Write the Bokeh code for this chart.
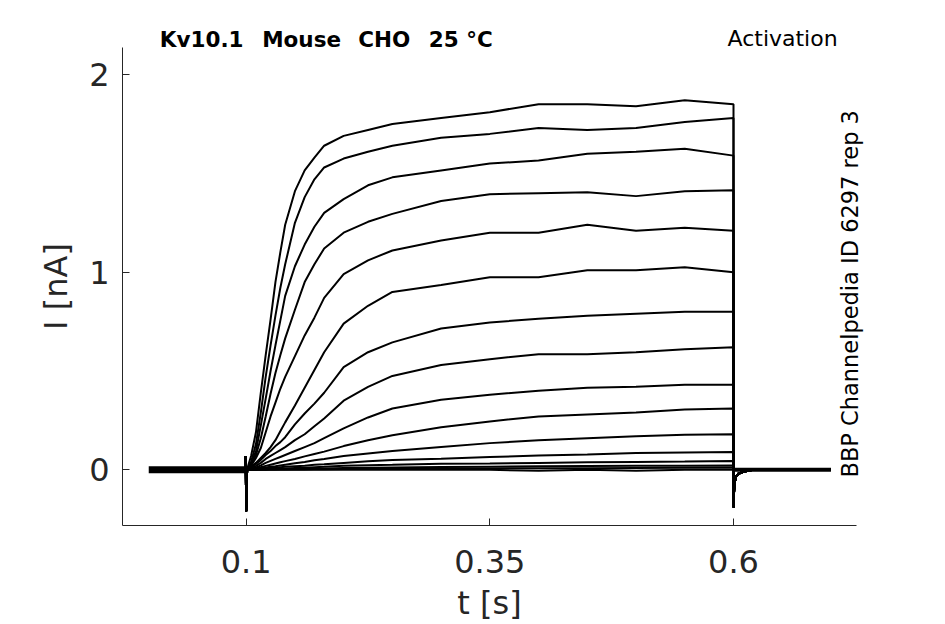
import math
from bokeh.plotting import figure
from bokeh.models import Range1d, FixedTicker, Label, LinearAxis
from bokeh.embed import file_html
from bokeh.resources import INLINE

# ---------------- data ----------------
# time grid of the depolarising step (s)
T = [0.102, 0.105, 0.11, 0.115, 0.12, 0.125, 0.13, 0.135, 0.14, 0.15, 0.16, 0.17,
     0.18, 0.2, 0.225, 0.25, 0.3, 0.35, 0.4, 0.45, 0.5, 0.55, 0.6]

# current of each sweep at the grid times (nA)
I01 = [0.02, 0.07, 0.19, 0.39, 0.58, 0.76, 0.95, 1.10, 1.24, 1.41, 1.515, 1.58, 1.64, 1.69, 1.72, 1.75, 1.78, 1.81, 1.85, 1.85, 1.84, 1.87, 1.85]
I02 = [0.01, 0.04, 0.13, 0.29, 0.47, 0.63, 0.78, 0.92, 1.04, 1.25, 1.38, 1.47, 1.53, 1.575, 1.61, 1.64, 1.68, 1.70, 1.73, 1.72, 1.73, 1.76, 1.78]
I03 = [0.01, 0.03, 0.095, 0.225, 0.36, 0.50, 0.63, 0.755, 0.88, 1.03, 1.14, 1.23, 1.30, 1.37, 1.44, 1.48, 1.515, 1.55, 1.565, 1.60, 1.61, 1.625, 1.59]
I04 = [0.01, 0.025, 0.075, 0.16, 0.27, 0.385, 0.49, 0.58, 0.665, 0.81, 0.95, 1.04, 1.12, 1.20, 1.255, 1.295, 1.36, 1.395, 1.40, 1.405, 1.385, 1.41, 1.415]
I05 = [0.005, 0.02, 0.06, 0.11, 0.19, 0.27, 0.34, 0.41, 0.47, 0.575, 0.68, 0.77, 0.87, 0.99, 1.06, 1.11, 1.16, 1.20, 1.20, 1.24, 1.21, 1.225, 1.21]
I06 = [0.005, 0.015, 0.035, 0.06, 0.085, 0.115, 0.15, 0.195, 0.24, 0.325, 0.415, 0.505, 0.595, 0.74, 0.83, 0.90, 0.935, 0.975, 0.975, 1.01, 1.01, 1.025, 1.00]
I07 = [0.005, 0.012, 0.03, 0.05, 0.075, 0.095, 0.12, 0.14, 0.165, 0.23, 0.285, 0.335, 0.39, 0.52, 0.595, 0.645, 0.715, 0.745, 0.765, 0.78, 0.79, 0.80, 0.80]
I08 = [0.003, 0.008, 0.02, 0.035, 0.055, 0.07, 0.085, 0.10, 0.115, 0.15, 0.18, 0.22, 0.26, 0.35, 0.42, 0.475, 0.53, 0.56, 0.585, 0.585, 0.595, 0.61, 0.62]
I09 = [0.002, 0.005, 0.012, 0.022, 0.035, 0.045, 0.055, 0.065, 0.075, 0.095, 0.115, 0.135, 0.16, 0.21, 0.265, 0.31, 0.355, 0.38, 0.40, 0.415, 0.42, 0.43, 0.43]
I10 = [0.001, 0.003, 0.008, 0.013, 0.02, 0.026, 0.032, 0.038, 0.044, 0.055, 0.068, 0.08, 0.092, 0.12, 0.15, 0.175, 0.215, 0.245, 0.27, 0.28, 0.29, 0.305, 0.31]
I11 = [0.0, 0.002, 0.005, 0.008, 0.012, 0.015, 0.018, 0.022, 0.026, 0.033, 0.04, 0.048, 0.055, 0.07, 0.083, 0.095, 0.115, 0.135, 0.15, 0.16, 0.17, 0.178, 0.18]
I12 = [0.0, 0.001, 0.003, 0.005, 0.007, 0.009, 0.011, 0.013, 0.015, 0.018, 0.021, 0.025, 0.028, 0.035, 0.043, 0.05, 0.056, 0.065, 0.072, 0.078, 0.085, 0.088, 0.09]
I13 = [0.0, 0.0, 0.001, 0.002, 0.003, 0.004, 0.005, 0.006, 0.007, 0.009, 0.011, 0.013, 0.015, 0.02, 0.023, 0.025, 0.03, 0.032, 0.035, 0.038, 0.04, 0.042, 0.045]
I14 = [0.0, 0.0, 0.0, 0.001, 0.001, 0.002, 0.002, 0.003, 0.003, 0.004, 0.005, 0.006, 0.007, 0.009, 0.011, 0.012, 0.014, 0.016, 0.018, 0.019, 0.02, 0.021, 0.022]
I15 = [0.0, 0.0, 0.0, 0.0, 0.0, 0.001, 0.001, 0.001, 0.001, 0.002, 0.002, 0.003, 0.003, 0.004, 0.005, 0.005, 0.006, 0.007, 0.008, 0.008, 0.009, 0.01, 0.01]
I16 = [0.0, 0.0, 0.0, 0.0, 0.0, 0.0, 0.0, 0.0, 0.0, 0.0, 0.0, 0.0, 0.0, 0.0, 0.0, 0.0, 0.0, 0.0, -0.005, 0.0, -0.005, 0.0, 0.0]
SWEEPS = [I01, I02, I03, I04, I05, I06, I07, I08, I09, I10, I11, I12, I13, I14, I15, I16]

# holding level before / after the step
HOLD_PRE_T = [0.0, 0.1]
HOLD_PRE_I = [0.0, 0.0]
HOLD_POST_T = [0.6, 0.7]
HOLD_POST_I = [0.0, 0.0]

# capacitive transient at step onset and offset
ON_T = [0.0995, 0.1, 0.1005, 0.101]
ON_I = [0.07, -0.21, -0.06, 0.0]
OFF_T = [0.6, 0.6005, 0.601, 0.6025, 0.605, 0.61, 0.62, 0.7]
OFF_I = [-0.19, -0.12, -0.07, -0.035, -0.02, -0.01, 0.0, 0.0]

# axis limits and ticks
X_LIM = (-0.0269, 0.7262)
Y_LIM = (-0.284, 2.137)
X_TICKS = [0.1, 0.35, 0.6]
X_TICK_LABELS = ["0.1", "0.35", "0.6"]
Y_TICKS = [0, 1, 2]
Y_TICK_LABELS = ["0", "1", "2"]

TITLE_WORDS = ["Kv10.1", "Mouse", "CHO", "25 °C"]   # "Kv10.1  Mouse  CHO  25 °C"
PROTOCOL = "Activation"
SOURCE = "BBP Channelpedia ID 6297 rep 3"

# ---------------- figure ----------------
FONT = "DejaVu Sans"
AX = "#262626"
W, H = 945, 624
# pixel calibration of the axes: t=0.1 at x=245.7, 974.6 px per s; I=0 at y=469.3, 197.6 px per nA
def tx(px):
    return 0.1 + (px - 245.7) / 974.6

def iy(py):
    return (469.3 - py) / 197.6

p = figure(width=W, height=H, x_range=Range1d(tx(0), tx(W)), y_range=Range1d(iy(H), iy(0)),
           min_border=0, x_axis_location=None, y_axis_location=None,
           output_backend="svg", toolbar_location=None)
p.outline_line_color = None
p.xgrid.visible = False
p.ygrid.visible = False
p.background_fill_color = "white"
p.border_fill_color = "white"

p.line(HOLD_PRE_T, HOLD_PRE_I, line_color="black", line_width=7)
p.line(HOLD_POST_T, HOLD_POST_I, line_color="black", line_width=4)
for sw in SWEEPS:
    ts = ON_T + T + OFF_T
    vs = ON_I + sw + OFF_I
    p.line(ts, vs, line_color="black", line_width=2)

xax = LinearAxis(fixed_location=Y_LIM[0], bounds=X_LIM)
yax = LinearAxis(fixed_location=X_LIM[0], bounds=Y_LIM)
p.add_layout(xax, "below")
p.add_layout(yax, "left")

for ax, ticks, labels in ((xax, X_TICKS, X_TICK_LABELS), (yax, Y_TICKS, Y_TICK_LABELS)):
    ax.ticker = FixedTicker(ticks=ticks)
    ax.major_label_overrides = {t: l for t, l in zip(ticks, labels)}
    ax.minor_tick_line_color = None
    ax.major_tick_in = 7
    ax.major_tick_out = 0
    ax.axis_line_color = AX
    ax.major_tick_line_color = AX
    ax.axis_line_width = 1
    ax.major_label_text_font = FONT
    ax.major_label_text_font_size = "32px"
    ax.major_label_text_color = AX
    ax.axis_label_text_font = FONT
    ax.axis_label_text_font_size = "32px"
    ax.axis_label_text_font_style = "normal"
    ax.axis_label_text_color = AX

xax.axis_label = "t [s]"
yax.axis_label = "I [nA]"
xax.major_label_standoff = 24
xax.axis_label_standoff = 8
yax.major_label_standoff = 13
yax.axis_label_standoff = 11

for word, left in zip(TITLE_WORDS, [159.3, 261.7, 357.7, 428.3]):
    p.add_layout(Label(x=tx(left), y=iy(38.5), text=word, text_font=FONT, text_font_style="bold",
                       text_font_size="21.5px", text_color="black", text_align="left",
                       text_baseline="alphabetic"))
p.add_layout(Label(x=tx(727), y=iy(38), text=PROTOCOL, text_font=FONT,
                   text_font_size="22px", text_color="black", text_align="left",
                   text_baseline="alphabetic"))
p.add_layout(Label(x=tx(849), y=iy(477), text=SOURCE, text_font=FONT, angle=math.pi / 2,
                   text_font_size="22.5px", text_color="black", text_align="left",
                   text_baseline="alphabetic"))

open("out.html", "w").write(file_html(p, INLINE))
